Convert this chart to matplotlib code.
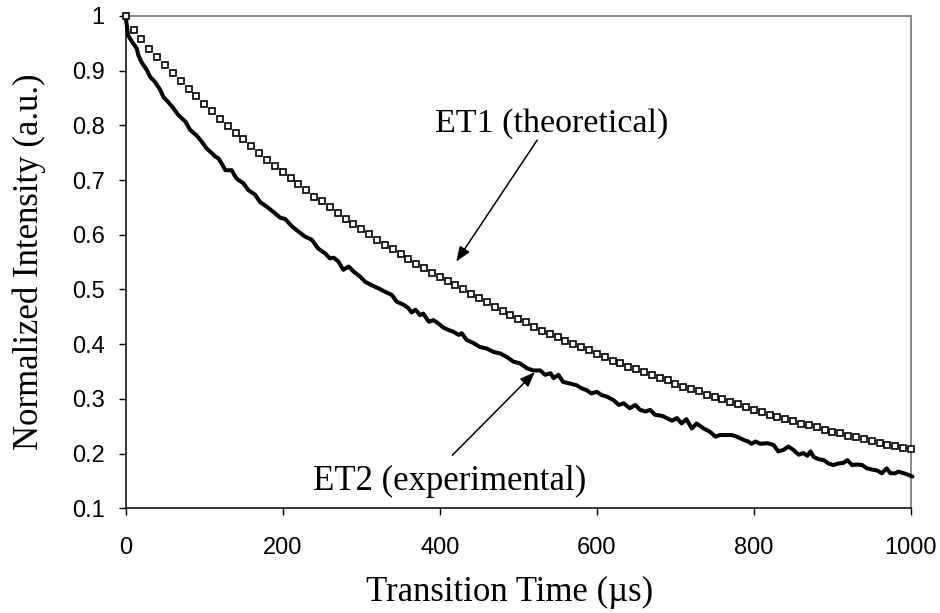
import numpy as np
import matplotlib.pyplot as plt

# ET1: theoretical decay, one value every 10 us
et1_t = list(range(0, 1001, 10))
et1_y = [1.000, 0.975, 0.958, 0.940, 0.925, 0.910, 0.896, 0.881, 0.866, 0.853,
         0.839, 0.826, 0.812, 0.799, 0.787, 0.775, 0.762, 0.749, 0.737, 0.725,
         0.715, 0.704, 0.693, 0.681, 0.670, 0.661, 0.650, 0.640, 0.629, 0.619,
         0.610, 0.601, 0.591, 0.582, 0.574, 0.564, 0.555, 0.547, 0.539, 0.531,
         0.523, 0.516, 0.508, 0.500, 0.492, 0.485, 0.477, 0.468, 0.461, 0.453,
         0.446, 0.440, 0.432, 0.425, 0.419, 0.413, 0.406, 0.400, 0.394, 0.389,
         0.382, 0.376, 0.370, 0.365, 0.359, 0.354, 0.349, 0.343, 0.338, 0.334,
         0.327, 0.322, 0.318, 0.314, 0.307, 0.303, 0.299, 0.295, 0.291, 0.286,
         0.280, 0.276, 0.271, 0.266, 0.263, 0.259, 0.255, 0.252, 0.248, 0.244,
         0.240, 0.237, 0.232, 0.230, 0.226, 0.223, 0.220, 0.216, 0.213, 0.210,
         0.208]

# ET2: measured decay
et2_t = [0, 3, 8, 14, 16, 20, 27, 31, 37, 44, 48, 54, 61, 67, 76, 82, 90, 97,
         103, 110, 114, 118, 122, 127, 135, 141, 150, 156, 165, 171, 180, 188,
         197, 203, 212, 220, 228, 237, 245, 254, 260, 265, 271, 277, 284, 290,
         299, 305, 313, 322, 330, 339, 345, 354, 360, 364, 369, 375, 379, 386,
         392, 398, 405, 411, 417, 424, 428, 434, 443, 451, 460, 468, 477, 485,
         494, 502, 511, 519, 528, 534, 541, 545, 551, 557, 566, 574, 581, 587,
         593, 600, 606, 613, 621, 628, 634, 642, 649, 655, 662, 668, 674, 683,
         689, 696, 702, 708, 714, 721, 727, 736, 744, 751, 757, 766, 772, 778,
         787, 793, 797, 802, 808, 817, 825, 831, 838, 844, 850, 857, 863, 868,
         872, 876, 882, 889, 895, 901, 908, 914, 919, 925, 931, 938, 944, 950,
         957, 963, 969, 974, 980, 984, 991, 997, 1002]
et2_y = [0.999, 0.965, 0.953, 0.941, 0.929, 0.916, 0.901, 0.889, 0.880, 0.865,
         0.852, 0.843, 0.831, 0.819, 0.807, 0.792, 0.782, 0.770, 0.758, 0.749,
         0.743, 0.740, 0.731, 0.718, 0.718, 0.703, 0.694, 0.682, 0.673, 0.660,
         0.651, 0.642, 0.631, 0.629, 0.615, 0.606, 0.597, 0.591, 0.575, 0.566,
         0.557, 0.558, 0.551, 0.536, 0.542, 0.533, 0.523, 0.514, 0.508, 0.502,
         0.496, 0.490, 0.478, 0.472, 0.466, 0.458, 0.463, 0.453, 0.456, 0.441,
         0.444, 0.438, 0.430, 0.426, 0.423, 0.417, 0.420, 0.408, 0.402, 0.395,
         0.392, 0.386, 0.383, 0.377, 0.368, 0.365, 0.356, 0.352, 0.352, 0.344,
         0.347, 0.338, 0.344, 0.331, 0.328, 0.325, 0.319, 0.316, 0.310, 0.313,
         0.307, 0.304, 0.298, 0.289, 0.292, 0.283, 0.289, 0.280, 0.277, 0.280,
         0.271, 0.269, 0.265, 0.260, 0.265, 0.255, 0.263, 0.246, 0.255, 0.246,
         0.240, 0.231, 0.234, 0.234, 0.234, 0.231, 0.225, 0.222, 0.218, 0.222,
         0.218, 0.219, 0.216, 0.204, 0.207, 0.213, 0.207, 0.198, 0.201, 0.196,
         0.204, 0.194, 0.190, 0.188, 0.182, 0.179, 0.182, 0.183, 0.188, 0.179,
         0.180, 0.179, 0.173, 0.171, 0.169, 0.164, 0.173, 0.164, 0.164, 0.167,
         0.164, 0.161, 0.158]

x_ticks = [0, 200, 400, 600, 800, 1000]
y_ticks = [0.1, 0.2, 0.3, 0.4, 0.5, 0.6, 0.7, 0.8, 0.9, 1.0]
y_tick_labels = ['0.1', '0.2', '0.3', '0.4', '0.5', '0.6', '0.7', '0.8', '0.9', '1']

serif = 'Liberation Serif'
sans = 'Liberation Sans'

fig = plt.figure(figsize=(9.4, 6.13), dpi=100)
ax = fig.add_axes([0.1337, 0.1708, 0.8354, 0.8031])

ax.plot(et2_t, et2_y, color='black', linewidth=2.9, solid_joinstyle='round',
        solid_capstyle='round', clip_on=False, zorder=3)
ax.plot(et1_t, et1_y, linestyle='none', marker='s', markersize=5.0,
        markerfacecolor='white', markeredgecolor='black', markeredgewidth=1.2,
        clip_on=False, zorder=4)

ax.set_xlim(0, 1000)
ax.set_ylim(0.1, 1.0)
ax.set_xticks(x_ticks)
ax.set_yticks(y_ticks)
ax.set_yticklabels(y_tick_labels)
ax.tick_params(direction='out', length=5, width=1, labelsize=17, color='black')
ax.tick_params(axis='y', pad=10)
ax.tick_params(axis='x', pad=16)
for lab in ax.get_xticklabels() + ax.get_yticklabels():
    lab.set_family(sans)

for side in ['left', 'bottom']:
    ax.spines[side].set_color('black')
    ax.spines[side].set_linewidth(1.1)
for side in ['top', 'right']:
    ax.spines[side].set_color('#808080')
    ax.spines[side].set_linewidth(1.3)

ax.set_xlabel('Transition Time (\u00b5s)', family=serif, fontsize=25, labelpad=12)
ax.xaxis.label.set_x(0.489)
ax.set_ylabel('Normalized Intensity (a.u.)', family=serif, fontsize=25, labelpad=19)

# labels with arrows pointing at each curve
arrow = dict(arrowstyle='-|>,head_length=0.9,head_width=0.35', color='black',
             linewidth=1.1, shrinkA=0, shrinkB=0)
ax.annotate('', xy=(421, 0.551), xytext=(524, 0.773), arrowprops=arrow)
ax.annotate('', xy=(521, 0.349), xytext=(416, 0.197), arrowprops=arrow)
ax.text(394, 0.788, 'ET1 (theoretical)', family=serif, fontsize=24.5,
        ha='left', va='baseline')
ax.text(239, 0.133, 'ET2 (experimental)', family=serif, fontsize=25,
        ha='left', va='baseline')

fig.savefig('out.png', dpi=100)
